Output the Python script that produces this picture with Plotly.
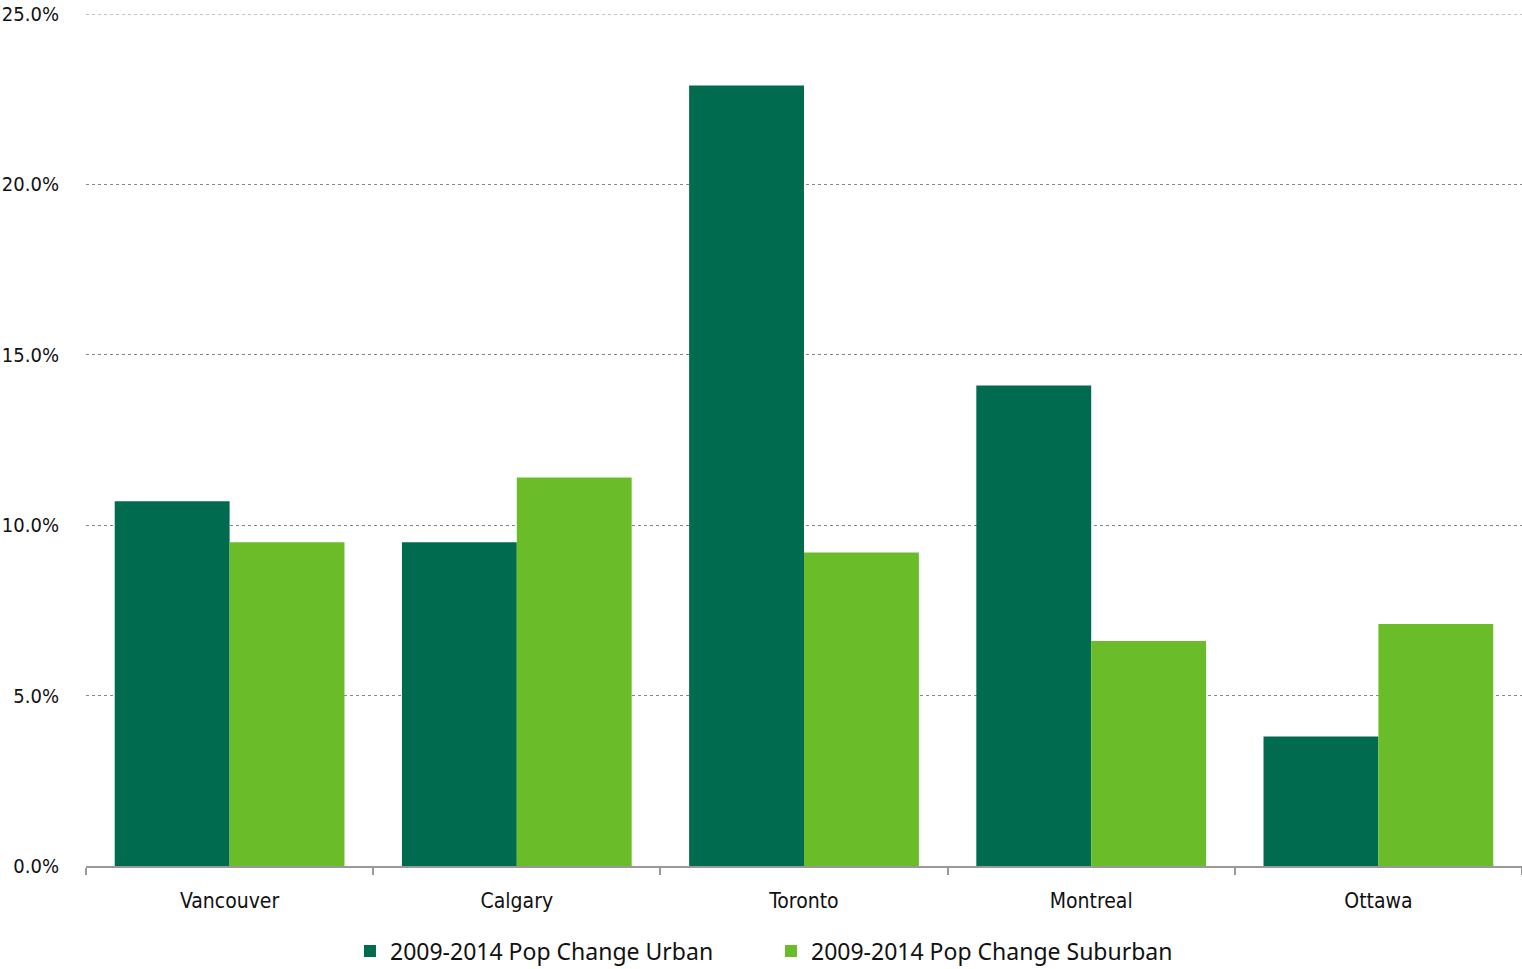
import plotly.graph_objects as go

cities = ["Vancouver", "Calgary", "Toronto", "Montreal", "Ottawa"]
urban = [10.7, 9.5, 22.9, 14.1, 3.8]
suburban = [9.5, 11.4, 9.2, 6.6, 7.1]
series_names = ["2009-2014 Pop Change Urban", "2009-2014 Pop Change Suburban"]
y_ticks = [0, 5, 10, 15, 20, 25]
y_tick_text = ["0.0%", "5.0%", "10.0%", "15.0%", "20.0%", "25.0%"]

x_font = dict(family="DejaVu Sans Condensed, sans-serif", size=21, color="#111111")
y_font = dict(family="DejaVu Sans Condensed, sans-serif", size=20, color="#111111")

fig = go.Figure()
fig.add_trace(go.Bar(x=cities, y=urban, name=series_names[0], marker=dict(color="#006B4F", line=dict(width=0))))
fig.add_trace(go.Bar(x=cities, y=suburban, name=series_names[1], marker=dict(color="#6ABD28", line=dict(width=0))))

fig.update_layout(
    width=1522, height=969,
    margin=dict(l=86, r=0, t=14, b=103, autoexpand=False),
    paper_bgcolor="white", plot_bgcolor="white",
    barmode="group", bargap=0.2, bargroupgap=0,
    showlegend=True,
    legend=dict(orientation="h", x=0.477, xanchor="center",
                yref="container", y=1 - 951 / 969, yanchor="middle",
                font=dict(family="Noto Sans, sans-serif", size=23, color="#111111"),
                traceorder="normal", entrywidth=376),
)
# top grid line (at the range edge, which plotly clips)
fig.add_shape(type="line", xref="paper", x0=0, x1=1, yref="y", y0=y_ticks[-1], y1=y_ticks[-1],
              line=dict(color="#888888", width=1, dash="dot"), layer="below")
fig.update_xaxes(
    type="category", showline=True, linecolor="#999999", linewidth=2,
    ticks="outside", tickson="boundaries", ticklen=7, tickcolor="#999999", tickwidth=2,
    tickfont=x_font, showgrid=False, ticklabelstandoff=15, automargin=False,
)
fig.update_yaxes(
    range=[0, 25], tickvals=y_ticks, ticktext=y_tick_text,
    showgrid=True, gridcolor="#888888", griddash="dot", gridwidth=1,
    zeroline=False, showline=False, ticks="", ticklabelstandoff=26,
    tickfont=y_font, automargin=False,
)
fig.write_html("out.html")
